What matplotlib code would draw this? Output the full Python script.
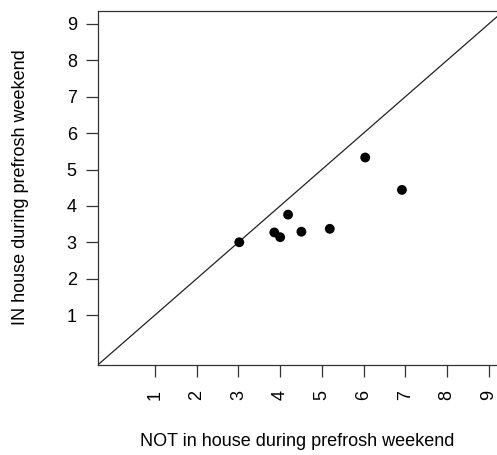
import matplotlib
matplotlib.use("Agg")
import matplotlib.pyplot as plt

plt.rcParams['font.family'] = ['Liberation Sans', 'DejaVu Sans']

# Average ratings per house, NOT in house vs IN house during prefrosh weekend
not_in_house = [3.02, 3.86, 4.00, 4.19, 4.51, 5.19, 6.04, 6.92]
in_house = [3.00, 3.27, 3.14, 3.76, 3.29, 3.37, 5.33, 4.44]

ticks = [1, 2, 3, 4, 5, 6, 7, 8, 9]
lim = (-0.36, 9.36)

W, H, DPI = 497, 455, 100
fig = plt.figure(figsize=(W / DPI, H / DPI), dpi=DPI)

# plot region (extends slightly past the right edge of the canvas)
left_px, right_px, top_px, bottom_px = 98.3, 503.7, 10.9, 364.5
ax = fig.add_axes([left_px / W, (H - bottom_px) / H,
                   (right_px - left_px) / W, (bottom_px - top_px) / H])

ax.set_xlim(*lim)
ax.set_ylim(*lim)

ax.axline((0, 0), slope=1, color='#222222', lw=0.9)
ax.scatter(not_in_house, in_house, s=50, color='black', zorder=3,
           edgecolors='none')

fs = 13
ax.set_xticks(ticks)
ax.set_yticks(ticks)
ax.set_xticklabels([str(t) for t in ticks], rotation=90, va='top', ha='center')
ax.set_yticklabels([str(t) for t in ticks])
ax.tick_params(axis='both', direction='out', length=8.5, width=0.9,
               color='#333333', labelsize=fs)
ax.tick_params(axis='x', pad=10)
ax.tick_params(axis='y', pad=7)

for sp in ax.spines.values():
    sp.set_linewidth(0.9)
    sp.set_color('#333333')

ax.set_xlabel("NOT in house during prefrosh weekend", fontsize=fs)
ax.set_ylabel("IN house during prefrosh weekend", fontsize=fs)
ax.xaxis.set_label_coords((297 - left_px) / (right_px - left_px),
                          -(441 - bottom_px) / (bottom_px - top_px))
ax.yaxis.set_label_coords(-(left_px - 21) / (right_px - left_px),
                          (bottom_px - 187.5) / (bottom_px - top_px))
ax.xaxis.label.set_va('center')
ax.yaxis.label.set_va('center')

fig.savefig("out.png", dpi=DPI)
